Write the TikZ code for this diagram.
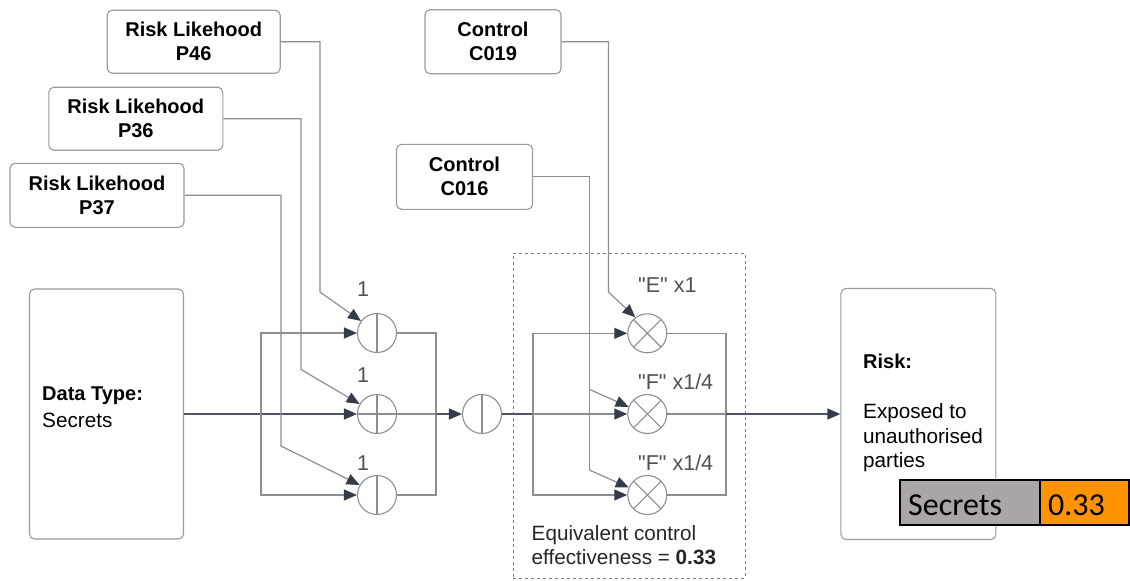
\documentclass[tikz,border=0pt]{standalone}
\usepackage{fontspec}
\setmainfont{Liberation Sans}
\newfontfamily\calibfont{Carlito}
\usetikzlibrary{arrows.meta}
\definecolor{boxgray}{RGB}{155,155,158}
\definecolor{linegray}{RGB}{140,142,146}
\definecolor{darkline}{RGB}{78,84,97}
\definecolor{arrowdark}{RGB}{52,60,74}
\definecolor{labelgray}{RGB}{80,80,84}
\definecolor{secgray}{RGB}{170,166,166}
\definecolor{secorange}{RGB}{255,148,0}
\begin{document}
\begin{tikzpicture}[x=1pt,y=-1pt,
  font=\fontsize{20.7}{24}\selectfont,
  box/.style={draw=boxgray, line width=1.1pt, rounded corners=5pt, fill=white, inner sep=0pt, align=center, font=\fontsize{20}{24}\selectfont\bfseries},
  sumnode/.style={circle, draw=linegray, line width=1.1pt, minimum size=39pt, inner sep=0pt,
     path picture={\draw[linegray, line width=1.1pt] (path picture bounding box.north) -- (path picture bounding box.south);}},
  multnode/.style={circle, draw=linegray, line width=1.1pt, minimum size=39pt, inner sep=0pt,
     path picture={\draw[linegray, line width=1.1pt] (path picture bounding box.north west) -- (path picture bounding box.south east)
        (path picture bounding box.north east) -- (path picture bounding box.south west);}},
  conn/.style={draw=linegray, line width=1.2pt},
  arr/.style={conn, -{Triangle[length=13pt,width=11pt,color=arrowdark]}},
  mainline/.style={draw=darkline, line width=1.6pt},
  mainarr/.style={mainline, -{Triangle[length=13pt,width=11pt,color=arrowdark]}},
  lbl/.style={text=labelgray, inner sep=0pt, font=\fontsize{21.5}{24}\selectfont},
  txt/.style={inner sep=0pt, anchor=base west},
  dashbox/.style={draw=gray, line width=0.9pt, dash pattern=on 3pt off 3pt, inner sep=0pt},
]
\useasboundingbox (0,0) rectangle (1130,581);

% source boxes
\node[box, minimum width=173pt, minimum height=63pt] (p46) at (193.7,41.7) {Risk Likehood\\P46};
\node[box, minimum width=174pt, minimum height=63pt] (p36) at (135.8,118.7) {Risk Likehood\\P36};
\node[box, minimum width=174pt, minimum height=64pt] (p37) at (97,195.3) {Risk Likehood\\P37};
\node[box, minimum width=136pt, minimum height=64pt] (c019) at (493,41.7) {Control\\C019};
\node[box, minimum width=136pt, minimum height=65pt] (c016) at (464.5,176.8) {Control\\C016};

% main boxes
\node[box, minimum width=154pt, minimum height=250pt] (data) at (106.5,414) {};
\node[txt, font=\fontsize{20}{24}\selectfont\bfseries] (dt1) at (42,400) {Data Type:};
\node[txt] (dt2) at (42,427) {Secrets};

\node[box, minimum width=155pt, minimum height=251pt] (risk) at (918.4,414) {};
\node[txt, font=\fontsize{20}{24}\selectfont\bfseries] (r1) at (863,368.3) {Risk:};
\node[txt] (r2) at (863,418.3) {Exposed to};
\node[txt] (r3) at (863,443.3) {unauthorised};
\node[txt] (r4) at (863,467.7) {parties};

% dashed group
\node[dashbox, minimum width=232pt, minimum height=325pt] (grp) at (629,415.5) {};

% operator circles
\node[sumnode] (c1) at (377,333) {};
\node[sumnode] (c2) at (377,414) {};
\node[sumnode] (c3) at (377,495) {};
\node[sumnode] (c4) at (482,414) {};
\node[multnode] (x1) at (647.3,333.3) {};
\node[multnode] (x2) at (647.3,414) {};
\node[multnode] (x3) at (647.3,495) {};
\draw[linegray, line width=1.1pt] (c2.west) -- (c2.east);

% labels
\node[lbl, anchor=base] (l1) at (363,296.7) {1};
\node[lbl, anchor=base] (l2) at (363,382.7) {1};
\node[lbl, anchor=base] (l3) at (363,470) {1};
\node[lbl, anchor=base west] (e1) at (638,292.7) {\textquotedbl E\textquotedbl{} x1};
\node[lbl, anchor=base west] (f1) at (638,389.3) {\textquotedbl F\textquotedbl{} x1/4};
\node[lbl, anchor=base west] (f2) at (638,470) {\textquotedbl F\textquotedbl{} x1/4};
\node[txt, text=black!85] (eq1) at (531.5,540) {Equivalent control};
\node[txt, text=black!85] (eq2) at (531.5,564) {effectiveness = \textbf{0.33}};

% junction coordinates
\coordinate (s1) at (261,414);
\coordinate (m1) at (436,414);
\coordinate (s2) at (533,414);
\coordinate (m2) at (726,414);
\coordinate (k1) at (320,292);
\coordinate (k2) at (301,369.5);
\coordinate (k3) at (281,446);
\coordinate (k4) at (608.5,292);
\coordinate (k5) at (589.3,389.3);
\coordinate (k6) at (589.3,470);

% first stage
\draw[mainarr] (data.east) -- (c2.west);
\draw[arr] (s1) |- (c1.west);
\draw[arr] (s1) |- (c3.west);
\draw[conn] (c1.east) -| (m1);
\draw[conn] (c3.east) -| (m1);
\draw[conn] (c2.east) -- (m1);
\draw[mainarr] (m1) -- (c4.west);

% second stage
\draw[mainline] (c4.east) -- (s2);
\draw[arr] (s2) |- (x1.west);
\draw[arr] (s2) -- (x2.west);
\draw[arr] (s2) |- (x3.west);
\draw[conn] (x1.east) -| (m2);
\draw[conn] (x3.east) -| (m2);
\draw[conn] (x2.east) -- (m2);
\draw[mainarr] (m2) -- (risk.west);

% likelihood and control inputs
\draw[arr] (p46.east) -| (k1) -- (c1.143);
\draw[arr] (p36.east) -| (k2) -- (c2.150);
\draw[arr] (p37.east) -| (k3) -- (c3.150);
\draw[arr] (c019.east) -| (k4) -- (x1.127);
\draw[conn] (c016.east) -| (k6);
\draw[arr] (k5) -- (x2.159);
\draw[arr] (k6) -- (x3.158);

% result bar
\node[draw=black, line width=2pt, fill=secgray, minimum width=140pt, minimum height=45pt, inner sep=0pt] (sec) at (970,502.7) {};
\node[draw=black, line width=2pt, fill=secorange, minimum width=89pt, minimum height=45pt, inner sep=0pt] (val) at (1084.5,502.7) {};
\node[txt, font=\fontsize{32}{36}\calibfont] (sect) at (908,515) {Secrets};
\node[txt, font=\fontsize{32}{36}\calibfont] (valt) at (1048,515) {0.33};
\end{tikzpicture}
\end{document}
